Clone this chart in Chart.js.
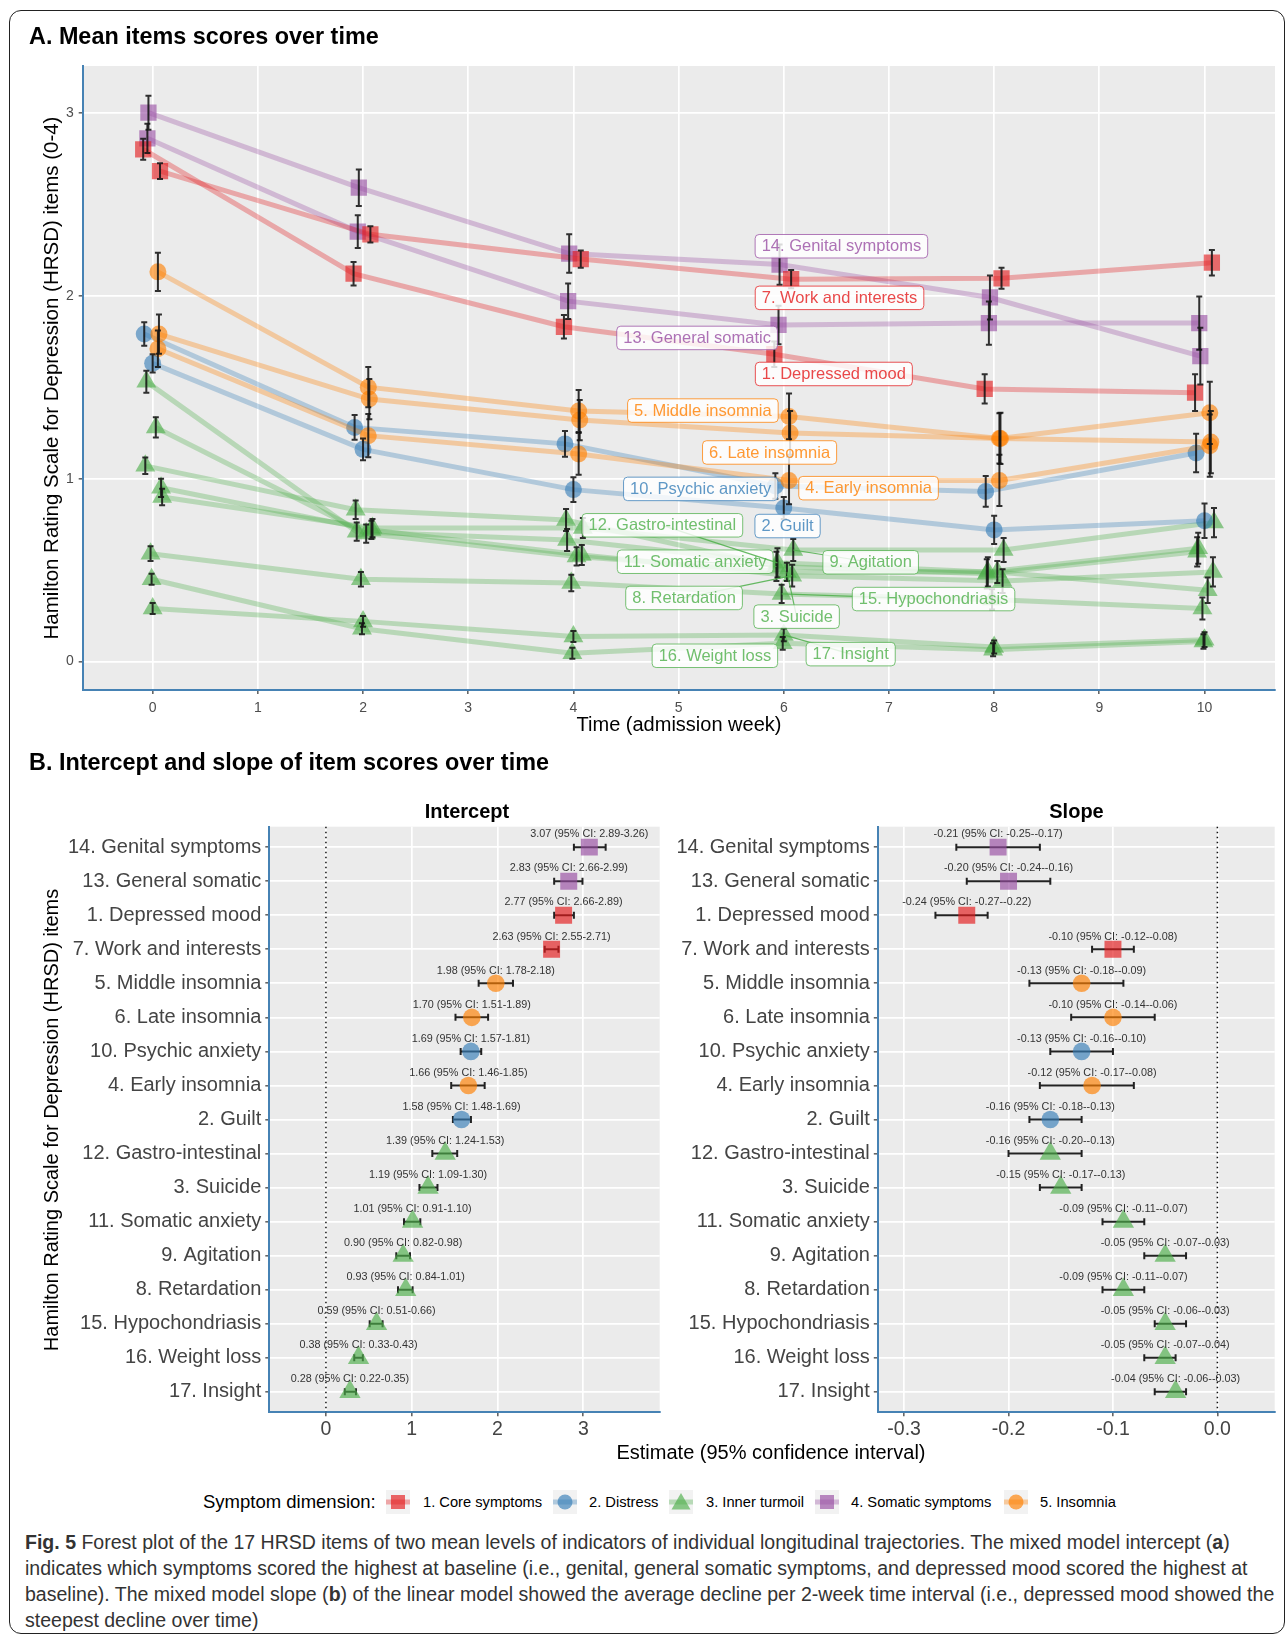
<!DOCTYPE html>
<html>
<head>
<meta charset="utf-8">
<script src="https://cdn.jsdelivr.net/npm/chart.js@4.4.1/dist/chart.umd.min.js"></script>
<style>
  html, body { margin: 0; padding: 0; background: #fff; }
  body { width: 1287px; height: 1640px; position: relative; overflow: hidden;
         font-family: "Liberation Sans", Arial, Helvetica, sans-serif; color: #000; }
  canvas { position: absolute; }
  .t { position: absolute; white-space: nowrap; line-height: 1; }
  .c { transform: translate(-50%, -50%); }
  .l { transform: translateY(-50%); }
  .r { transform: translate(-50%, -50%) rotate(-90deg); }
  .frame { position: absolute; left: 9px; top: 10px; width: 1276px; height: 1624px;
           border: 1.5px solid #222; border-radius: 12px; box-sizing: border-box; }
  .cap { position: absolute; left: 25px; white-space: nowrap; line-height: 1; color: #333;
         transform: translateY(-50%); font-size: 18px; }
  .key { position: absolute; top: 1490px; width: 24px; height: 24px; }
</style>
</head>
<body>
<div class="frame"></div>

<canvas id="trajChart" width="1287" height="745" style="left:0;top:0;width:1287px;height:745px"></canvas>
<canvas id="interceptChart" width="672" height="740" style="left:0;top:740px;width:672px;height:740px"></canvas>
<canvas id="slopeChart" width="627" height="740" style="left:660px;top:740px;width:627px;height:740px"></canvas>

<div class="t l" style="left:29px;top:36.6px;font-size:23.4px;font-weight:bold">A. Mean items scores over time</div>
<div class="t r" style="left:51px;top:378px;font-size:20.5px">Hamilton Rating Scale for Depression (HRSD) items (0-4)</div>
<div class="t c" style="left:679px;top:724px;font-size:20px">Time (admission week)</div>

<div class="t l" style="left:29px;top:762.7px;font-size:23.4px;font-weight:bold">B. Intercept and slope of item scores over time</div>
<div class="t c" style="left:467px;top:811px;font-size:20px;font-weight:bold">Intercept</div>
<div class="t c" style="left:1076.5px;top:811px;font-size:20px;font-weight:bold">Slope</div>
<div class="t r" style="left:51px;top:1119.5px;font-size:20px">Hamilton Rating Scale for Depression (HRSD) items</div>
<div class="t c" style="left:771px;top:1452px;font-size:20px">Estimate (95% confidence interval)</div>

<div id="legend"></div>

<div class="cap" style="top:1542.7px"><b>Fig. 5</b> Forest plot of the 17 HRSD items of two mean levels of indicators of individual longitudinal trajectories. The mixed model intercept (<b>a</b>)</div>
<div class="cap" style="top:1569px">indicates which symptoms scored the highest at baseline (i.e., genital, general somatic symptoms, and depressed mood scored the highest at</div>
<div class="cap" style="top:1595px">baseline). The mixed model slope (<b>b</b>) of the linear model showed the average decline per 2-week time interval (i.e., depressed mood showed the</div>
<div class="cap" style="top:1620.7px">steepest decline over time)</div>

<script>
// ---------- data ----------
const weeks = [0, 2, 4, 6, 8, 10];

const itemNames = [
  "1. Depressed mood", "2. Guilt", "3. Suicide", "4. Early insomnia", "5. Middle insomnia",
  "6. Late insomnia", "7. Work and interests", "8. Retardation", "9. Agitation",
  "10. Psychic anxiety", "11. Somatic anxiety", "12. Gastro-intestinal", "13. General somatic",
  "14. Genital symptoms", "15. Hypochondriasis", "16. Weight loss", "17. Insight"
];

// symptom dimension of each item (index into dimensionNames)
const itemDimension = [0, 1, 2, 4, 4, 4, 0, 2, 2, 1, 2, 2, 3, 3, 2, 2, 2];
const dimensionNames = ["1. Core symptoms", "2. Distress", "3. Inner turmoil", "4. Somatic symptoms", "5. Insomnia"];

// mean item score per admission week (rows follow itemNames)
const meanScores = [
  [2.80, 2.12, 1.83, 1.68, 1.49, 1.47],
  [1.63, 1.16, 0.94, 0.84, 0.72, 0.77],
  [1.28, 0.70, 0.575, 0.49, 0.49, 0.39],
  [1.71, 1.235, 1.135, 0.99, 0.99, 1.18],
  [2.13, 1.50, 1.37, 1.34, 1.22, 1.36],
  [1.79, 1.435, 1.32, 1.25, 1.22, 1.20],
  [2.68, 2.335, 2.20, 2.09, 2.095, 2.18],
  [0.95, 0.72, 0.583, 0.47, 0.44, 0.49],
  [0.90, 0.73, 0.73, 0.61, 0.61, 0.76],
  [1.79, 1.28, 1.19, 0.96, 0.93, 1.14],
  [1.07, 0.83, 0.774, 0.52, 0.48, 0.60],
  [1.53, 0.71, 0.665, 0.54, 0.49, 0.62],
  [2.86, 2.35, 1.97, 1.84, 1.85, 1.85],
  [3.00, 2.59, 2.23, 2.17, 1.99, 1.67],
  [0.59, 0.45, 0.43, 0.37, 0.34, 0.29],
  [0.45, 0.18, 0.046, 0.10, 0.065, 0.11],
  [0.29, 0.22, 0.137, 0.146, 0.08, 0.12]
];

// half width of the 95% CI of each mean
const ciHalfWidth = [
  [0.057, 0.064, 0.064, 0.07, 0.08, 0.10],
  [0.05, 0.06, 0.068, 0.06, 0.077, 0.094],
  [0.055, 0.05, 0.05, 0.05, 0.06, 0.07],
  [0.10, 0.118, 0.114, 0.13, 0.14, 0.17],
  [0.105, 0.11, 0.115, 0.125, 0.137, 0.17],
  [0.107, 0.11, 0.11, 0.12, 0.14, 0.17],
  [0.043, 0.044, 0.047, 0.05, 0.057, 0.07],
  [0.05, 0.05, 0.055, 0.06, 0.065, 0.08],
  [0.045, 0.05, 0.055, 0.06, 0.065, 0.08],
  [0.064, 0.068, 0.07, 0.07, 0.084, 0.105],
  [0.045, 0.05, 0.06, 0.08, 0.08, 0.08],
  [0.06, 0.05, 0.06, 0.08, 0.08, 0.085],
  [0.08, 0.09, 0.097, 0.105, 0.118, 0.145],
  [0.093, 0.10, 0.105, 0.11, 0.12, 0.155],
  [0.04, 0.04, 0.045, 0.05, 0.055, 0.06],
  [0.03, 0.03, 0.03, 0.035, 0.035, 0.04],
  [0.03, 0.03, 0.03, 0.035, 0.035, 0.04]
];

// forest plot rows, top to bottom (item numbers)
const forestOrder = [14, 13, 1, 7, 5, 6, 10, 4, 2, 12, 3, 11, 9, 8, 15, 16, 17];
const interceptEst  = [3.07, 2.83, 2.77, 2.63, 1.98, 1.70, 1.69, 1.66, 1.58, 1.39, 1.19, 1.01, 0.90, 0.93, 0.59, 0.38, 0.28];
const interceptLow  = [2.89, 2.66, 2.66, 2.55, 1.78, 1.51, 1.57, 1.46, 1.48, 1.24, 1.09, 0.91, 0.82, 0.84, 0.51, 0.33, 0.22];
const interceptHigh = [3.26, 2.99, 2.89, 2.71, 2.18, 1.89, 1.81, 1.85, 1.69, 1.53, 1.30, 1.10, 0.98, 1.01, 0.66, 0.43, 0.35];
const slopeEst  = [-0.21, -0.20, -0.24, -0.10, -0.13, -0.10, -0.13, -0.12, -0.16, -0.16, -0.15, -0.09, -0.05, -0.09, -0.05, -0.05, -0.04];
const slopeLow  = [-0.25, -0.24, -0.27, -0.12, -0.18, -0.14, -0.16, -0.17, -0.18, -0.20, -0.17, -0.11, -0.07, -0.11, -0.06, -0.07, -0.06];
const slopeHigh = [-0.17, -0.16, -0.22, -0.08, -0.09, -0.06, -0.10, -0.08, -0.13, -0.13, -0.13, -0.07, -0.03, -0.07, -0.03, -0.04, -0.03];

// ---------- styling ----------
const dimensionRGB = ["228,26,28", "55,126,184", "77,175,74", "152,78,163", "255,127,0"];
const dimensionShape = ["rect", "circle", "triangle", "rect", "circle"];
const radiusA = { rect: 11.5, circle: 8.5, triangle: 11.5 };
const radiusB = { rect: 12, circle: 8.8, triangle: 12.3 };
// horizontal dodge of each item around its week
const dodge = [-0.09, 0.0, 0.03, 0.05, 0.05, 0.06, 0.07, 0.08, 0.09, -0.08, -0.07, -0.06, -0.05, -0.04, -0.02, -0.01, 0.0];
// repelled name tags (week, score) and whether they get a leader segment
const tagAnchor = [
  [6.476, 1.572], [6.036, 0.741], [6.122, 0.246], [6.806, 0.948], [5.231, 1.372],
  [5.865, 1.143], [6.530, 1.988], [5.052, 0.348], [6.826, 0.543], [5.210, 0.944],
  [5.158, 0.546], [4.846, 0.745], [5.176, 1.769], [6.548, 2.270], [7.424, 0.342],
  [5.345, 0.032], [6.636, 0.041]
];
const tagLeader = [false, false, true, false, false, false, false, true, true, false, true, true, false, false, true, false, true];

const FONT = '"Liberation Sans", Arial, Helvetica, sans-serif';
const rgba = (rgb, a) => `rgba(${rgb},${a})`;
const STEEL = '#4682B4';

function roundRectPath(ctx, x, y, w, h, r) {
  ctx.beginPath();
  ctx.moveTo(x + r, y);
  ctx.arcTo(x + w, y, x + w, y + h, r);
  ctx.arcTo(x + w, y + h, x, y + h, r);
  ctx.arcTo(x, y + h, x, y, r);
  ctx.arcTo(x, y, x + w, y, r);
  ctx.closePath();
}

const panelBg = {
  id: 'panelBg',
  beforeDraw(chart) {
    const { ctx, chartArea: a } = chart;
    ctx.save();
    ctx.fillStyle = '#EBEBEB';
    ctx.fillRect(a.left, a.top, a.right - a.left, a.bottom - a.top);
    ctx.restore();
  }
};

// ---------- panel A: trajectories ----------
const trajErrorBars = {
  id: 'trajErrorBars',
  afterDatasetsDraw(chart) {
    const { ctx, scales: { x, y } } = chart;
    ctx.save();
    ctx.strokeStyle = 'rgba(20,20,20,0.88)';
    ctx.lineWidth = 2;
    chart.data.datasets.forEach((ds, i) => {
      ds.data.forEach((p, j) => {
        const px = x.getPixelForValue(p.x);
        const hw = ciHalfWidth[i][j];
        const y1 = y.getPixelForValue(p.y - hw), y2 = y.getPixelForValue(p.y + hw);
        ctx.beginPath();
        ctx.moveTo(px, y1); ctx.lineTo(px, y2);
        ctx.moveTo(px - 3, y1); ctx.lineTo(px + 3, y1);
        ctx.moveTo(px - 3, y2); ctx.lineTo(px + 3, y2);
        ctx.stroke();
      });
    });
    ctx.restore();
  }
};

const trajTags = {
  id: 'trajTags',
  afterDatasetsDraw(chart) {
    const { ctx, scales: { x, y } } = chart;
    ctx.save();
    ctx.font = `16.5px ${FONT}`;
    ctx.textAlign = 'center';
    ctx.textBaseline = 'middle';
    itemNames.forEach((name, i) => {
      const rgb = dimensionRGB[itemDimension[i]];
      const cx = x.getPixelForValue(tagAnchor[i][0]);
      const cy = y.getPixelForValue(tagAnchor[i][1]);
      const w = ctx.measureText(name).width + 13, h = 23.5;
      if (tagLeader[i]) {
        const tx = x.getPixelForValue(weeks[3] + dodge[i]);
        const ty = y.getPixelForValue(meanScores[i][3]);
        ctx.strokeStyle = rgba(rgb, 0.85);
        ctx.lineWidth = 1.2;
        ctx.beginPath(); ctx.moveTo(cx, cy); ctx.lineTo(tx, ty); ctx.stroke();
      }
      roundRectPath(ctx, cx - w / 2, cy - h / 2, w, h, 4);
      ctx.fillStyle = 'rgba(255,255,255,0.82)';
      ctx.fill();
      ctx.strokeStyle = rgba(rgb, 0.75);
      ctx.lineWidth = 1;
      ctx.stroke();
      ctx.fillStyle = rgba(rgb, 0.8);
      ctx.fillText(name, cx, cy + 0.5);
    });
    ctx.restore();
  }
};

const trajDatasets = itemNames.map((name, i) => {
  const d = itemDimension[i];
  const shape = dimensionShape[d];
  return {
    label: name,
    data: weeks.map((w, j) => ({ x: w + dodge[i], y: meanScores[i][j] })),
    showLine: true,
    borderColor: rgba(dimensionRGB[d], 0.32),
    borderWidth: 5,
    tension: 0,
    pointStyle: shape,
    pointRadius: radiusA[shape],
    pointHoverRadius: radiusA[shape],
    pointBackgroundColor: rgba(dimensionRGB[d], 0.62),
    pointBorderWidth: 0
  };
});

new Chart(document.getElementById('trajChart'), {
  type: 'scatter',
  data: { datasets: trajDatasets },
  options: {
    responsive: false, animation: false, devicePixelRatio: 1,
    layout: { padding: { left: 0, right: 12, top: 66, bottom: 25 } },
    plugins: { legend: { display: false }, tooltip: { enabled: false } },
    scales: {
      x: {
        type: 'linear', min: -0.665, max: 10.67,
        afterFit(s) { s.height = 30; },
        ticks: { stepSize: 1, includeBounds: false, maxRotation: 0, padding: 6,
                 color: '#4D4D4D', font: { size: 14, family: FONT } },
        grid: { color: '#FFFFFF', lineWidth: 1.7, tickColor: '#333', tickWidth: 1.2, tickLength: 4 },
        border: { display: true, color: STEEL, width: 2 }
      },
      y: {
        type: 'linear', min: -0.155, max: 3.255,
        afterFit(s) { s.width = 82.7; },
        ticks: { stepSize: 1, includeBounds: false, padding: 5,
                 color: '#4D4D4D', font: { size: 14, family: FONT } },
        grid: { color: '#FFFFFF', lineWidth: 1.7, tickColor: '#333', tickWidth: 1.2, tickLength: 4 },
        border: { display: true, color: STEEL, width: 2 }
      }
    }
  },
  plugins: [panelBg, trajErrorBars, trajTags]
});

// ---------- panel B: forest plots ----------
function forestChart(canvasId, est, low, high, xmin, xmax, step, axisWidth, padRight, tickFmt) {
  const shapes = forestOrder.map(n => dimensionShape[itemDimension[n - 1]]);
  const rows = est.map((v, i) => 17 - i);

  const zeroLine = {
    id: 'zeroLine',
    beforeDatasetsDraw(chart) {
      const { ctx, chartArea: a, scales: { x } } = chart;
      const px = x.getPixelForValue(0);
      ctx.save();
      ctx.strokeStyle = '#111';
      ctx.lineWidth = 1.5;
      ctx.setLineDash([1.5, 3.5]);
      ctx.beginPath(); ctx.moveTo(px, a.top); ctx.lineTo(px, a.bottom); ctx.stroke();
      ctx.restore();
    }
  };
  const ciBars = {
    id: 'ciBars',
    beforeDatasetsDraw(chart) {
      const { ctx, scales: { x, y } } = chart;
      ctx.save();
      ctx.strokeStyle = '#222';
      ctx.lineWidth = 2;
      rows.forEach((r, i) => {
        const py = y.getPixelForValue(r);
        const x1 = x.getPixelForValue(low[i]), x2 = x.getPixelForValue(high[i]);
        ctx.beginPath();
        ctx.moveTo(x1, py); ctx.lineTo(x2, py);
        ctx.moveTo(x1, py - 3.5); ctx.lineTo(x1, py + 3.5);
        ctx.moveTo(x2, py - 3.5); ctx.lineTo(x2, py + 3.5);
        ctx.stroke();
      });
      ctx.restore();
    }
  };
  const estimateText = {
    id: 'estimateText',
    afterDatasetsDraw(chart) {
      const { ctx, scales: { x, y } } = chart;
      ctx.save();
      ctx.font = `10.8px ${FONT}`;
      ctx.fillStyle = '#333';
      ctx.textAlign = 'center';
      ctx.textBaseline = 'middle';
      rows.forEach((r, i) => {
        const txt = `${est[i].toFixed(2)} (95% CI: ${low[i].toFixed(2)}-${high[i].toFixed(2)})`;
        ctx.fillText(txt, x.getPixelForValue(est[i]), y.getPixelForValue(r) - 12.7);
      });
      ctx.restore();
    }
  };

  return new Chart(document.getElementById(canvasId), {
    type: 'scatter',
    data: {
      datasets: [{
        data: est.map((v, i) => ({ x: v, y: rows[i] })),
        pointStyle: shapes,
        pointRadius: shapes.map(s => radiusB[s]),
        pointHoverRadius: shapes.map(s => radiusB[s]),
        pointBackgroundColor: forestOrder.map(n => rgba(dimensionRGB[itemDimension[n - 1]], 0.66)),
        pointBorderWidth: 0
      }]
    },
    options: {
      responsive: false, animation: false, devicePixelRatio: 1,
      layout: { padding: { left: 0, right: padRight, top: 86.7, bottom: 37.7 } },
      plugins: { legend: { display: false }, tooltip: { enabled: false } },
      scales: {
        x: {
          type: 'linear', min: xmin, max: xmax,
          afterFit(s) { s.height = 30; },
          ticks: { stepSize: step, includeBounds: false, maxRotation: 0, padding: 2,
                   color: '#444', font: { size: 19.5, family: FONT }, callback: tickFmt },
          grid: { color: '#FFFFFF', lineWidth: 1.7, tickColor: '#333', tickWidth: 1.2, tickLength: 4 },
          border: { display: true, color: STEEL, width: 2 }
        },
        y: {
          type: 'linear', min: 0.4, max: 17.6,
          afterFit(s) { s.width = axisWidth; },
          ticks: { stepSize: 1, includeBounds: false, autoSkip: false, padding: 4,
                   color: '#444', font: { size: 20, family: FONT },
                   callback: v => itemNames[forestOrder[17 - v] - 1] },
          grid: { color: '#FFFFFF', lineWidth: 1.7, tickColor: '#333', tickWidth: 1.2, tickLength: 4 },
          border: { display: true, color: STEEL, width: 2 }
        }
      }
    },
    plugins: [panelBg, zeroLine, ciBars, estimateText]
  });
}

forestChart('interceptChart', interceptEst, interceptLow, interceptHigh,
            -0.66, 3.89, 1, 269.3, 7, v => String(v));
forestChart('slopeChart', slopeEst, slopeLow, slopeHigh,
            -0.3252, 0.0549, 0.1, 217.8, 12, v => v.toFixed(1));

// ---------- legend ----------
(function buildLegend() {
  const host = document.getElementById('legend');
  const keyCentres = [398, 565, 681, 827, 1016];
  const textLefts = [423, 589, 706, 851, 1040];
  let html = '<div class="t l" style="left:203px;top:1502px;font-size:18.5px">Symptom dimension:</div>';
  dimensionNames.forEach((name, d) => {
    const rgb = dimensionRGB[d];
    const shape = dimensionShape[d];
    let mark;
    if (shape === 'rect') mark = `<rect x="5" y="5" width="14" height="14" fill="${rgba(rgb, 0.66)}"/>`;
    else if (shape === 'circle') mark = `<circle cx="12" cy="12" r="7.5" fill="${rgba(rgb, 0.66)}"/>`;
    else mark = `<polygon points="12,3 21.5,19.5 2.5,19.5" fill="${rgba(rgb, 0.66)}"/>`;
    html += `<svg class="key" style="left:${keyCentres[d] - 12}px" viewBox="0 0 24 24">` +
            `<rect width="24" height="24" fill="#F2F2F2"/>` +
            `<line x1="0" y1="12" x2="24" y2="12" stroke="${rgba(rgb, 0.35)}" stroke-width="5"/>` +
            mark + `</svg>`;
    html += `<div class="t l" style="left:${textLefts[d]}px;top:1502px;font-size:14.7px">${name}</div>`;
  });
  host.innerHTML = html;
})();

// ---------- caption sizing ----------
(function fitCaption() {
  const lines = document.querySelectorAll('.cap');
  const w = lines[2].getBoundingClientRect().width;
  const fs = 18 * 1250 / w;
  lines.forEach(l => { l.style.fontSize = fs + 'px'; });
})();
</script>
</body>
</html>
